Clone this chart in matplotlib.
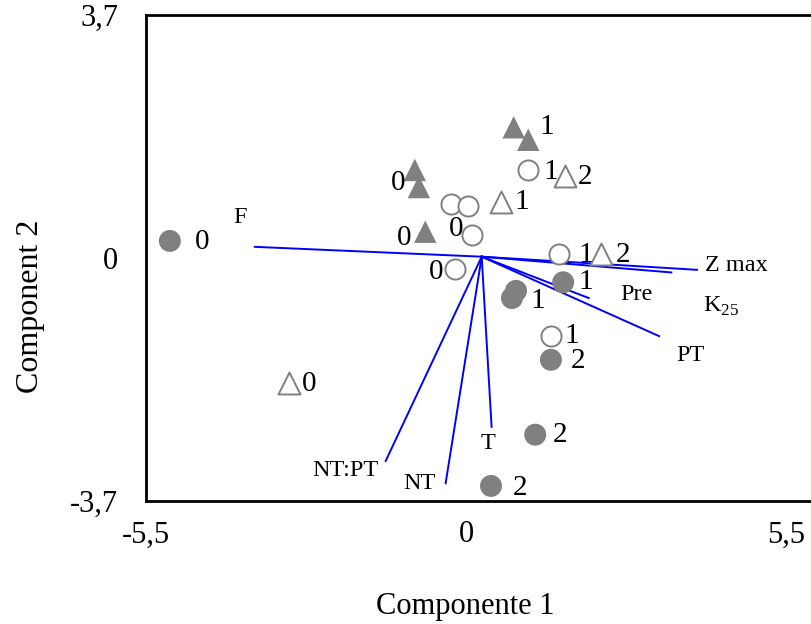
import matplotlib.pyplot as plt

plt.rcParams['font.family'] = ['Liberation Serif', 'DejaVu Serif']
plt.rcParams['mathtext.fontset'] = 'custom'
plt.rcParams['mathtext.rm'] = 'Liberation Serif'

# ── Scores (Component 1, Component 2) and their labels ───────────────────────
fc_x = [-5.09, 0.86, 0.79, 1.67, 1.46, 1.19, 0.43]          # filled circles
fc_y = [0.26, -0.50, -0.61, -0.37, -1.55, -2.69, -3.47]
oc_x = [1.07, -0.26, 0.03, 0.10, -0.19, 1.60, 1.46]         # open circles
oc_y = [1.34, 0.82, 0.79, 0.35, -0.17, 0.06, -1.19]
ft_x = [0.82, 1.07, -0.88, -0.81, -0.70]                    # filled triangles
ft_y = [1.99, 1.80, 1.34, 1.08, 0.40]
ot_x = [1.70, 0.60, 2.32, -3.04]                            # open triangles
ot_y = [1.25, 0.85, 0.06, -1.90]

# point labels: text, x, y
pt_lab = ['0', '1', '1', '2', '2', '2',
          '1', '0', '0', '1', '1',
          '1', '0', '0',
          '2', '1', '2', '0']
pt_lab_x = [-4.53, 1.24, 2.05, 1.92, 1.62, 0.93,
            1.45, -0.17, -0.51, 2.05, 1.82,
            1.39, -1.17, -1.07,
            2.05, 0.96, 2.70, -2.69]
pt_lab_y = [0.24, -0.65, -0.37, -1.57, -2.70, -3.50,
            1.31, 0.44, -0.21, 0.05, -1.19,
            1.99, 1.14, 0.31,
            1.23, 0.85, 0.05, -1.92]

# ── Loading vectors ───────────────────────────────────────────────────────────
vec_x0, vec_y0 = 0.27, 0.02
vec_x = [-3.63, 3.97, 3.53, 2.11, 3.32, 0.44, -0.35, -1.38]
vec_y = [0.17, -0.18, -0.22, -0.61, -1.19, -2.57, -3.43, -3.09]
var_names = ['F', 'Z max', r'K$_{\mathrm{25}}$', 'Pre', 'PT', 'T', 'NT', 'NT:PT']
var_lab_x = [-3.88, 4.11, 4.07, 2.65, 3.61, 0.38, -1.08, -2.65]
var_lab_y = [0.61, -0.11, -0.74, -0.55, -1.48, -2.82, -3.44, -3.24]
var_ha = ['center', 'left', 'left', 'left', 'left', 'center', 'left', 'left']

GREY = '#808080'

fig = plt.figure(figsize=(8.11, 6.24), dpi=100)
ax = fig.add_axes([146/811, 123/624, 665/811, 486/624])

for x, y in zip(vec_x, vec_y):
    ax.plot([vec_x0, x], [vec_y0, y], color='#0000ff', lw=1.4, zorder=2)
for name, x, y, ha in zip(var_names, var_lab_x, var_lab_y, var_ha):
    ax.text(x, y, name, fontsize=17.5, ha=ha, va='center', zorder=4)

ax.scatter(fc_x, fc_y, s=250, marker='o', color=GREY, edgecolor='none', zorder=3)
ax.scatter(oc_x, oc_y, s=210, marker='o', facecolor='white', edgecolor=GREY,
           linewidth=1.4, zorder=3)
ax.scatter(ft_x, ft_y, s=260, marker='^', color=GREY, edgecolor='none', zorder=3)
ax.scatter(ot_x, ot_y, s=250, marker='^', facecolor='white', edgecolor=GREY,
           linewidth=1.4, zorder=3)

for t, x, y in zip(pt_lab, pt_lab_x, pt_lab_y):
    ax.text(x, y, t, fontsize=21, ha='center', va='center', zorder=4)

ax.set_xlim(-5.5, 5.93)
ax.set_ylim(-3.7, 3.7)
ax.set_xticks([-5.5, 0, 5.5])
ax.set_xticklabels(['-5,5', '0', '5,5'], fontsize=22)
ax.set_yticks([-3.7, 0, 3.7])
ax.set_yticklabels(['-3,7', '0', '3,7'], fontsize=22)
ax.tick_params(axis='x', length=0, pad=14)
ax.tick_params(axis='y', length=0, pad=20)
for s in ['left', 'bottom', 'top']:
    ax.spines[s].set_linewidth(2)
ax.spines['right'].set_visible(False)

ax.set_xlabel('Componente 1', fontsize=22)
ax.set_ylabel('Component 2', fontsize=23)
ax.xaxis.set_label_coords(0.48, -0.218)
ax.yaxis.set_label_coords(-0.174, 0.40)
ax.xaxis.label.set_va('center')
ax.yaxis.label.set_va('center')

plt.savefig('out.png', dpi=100)
